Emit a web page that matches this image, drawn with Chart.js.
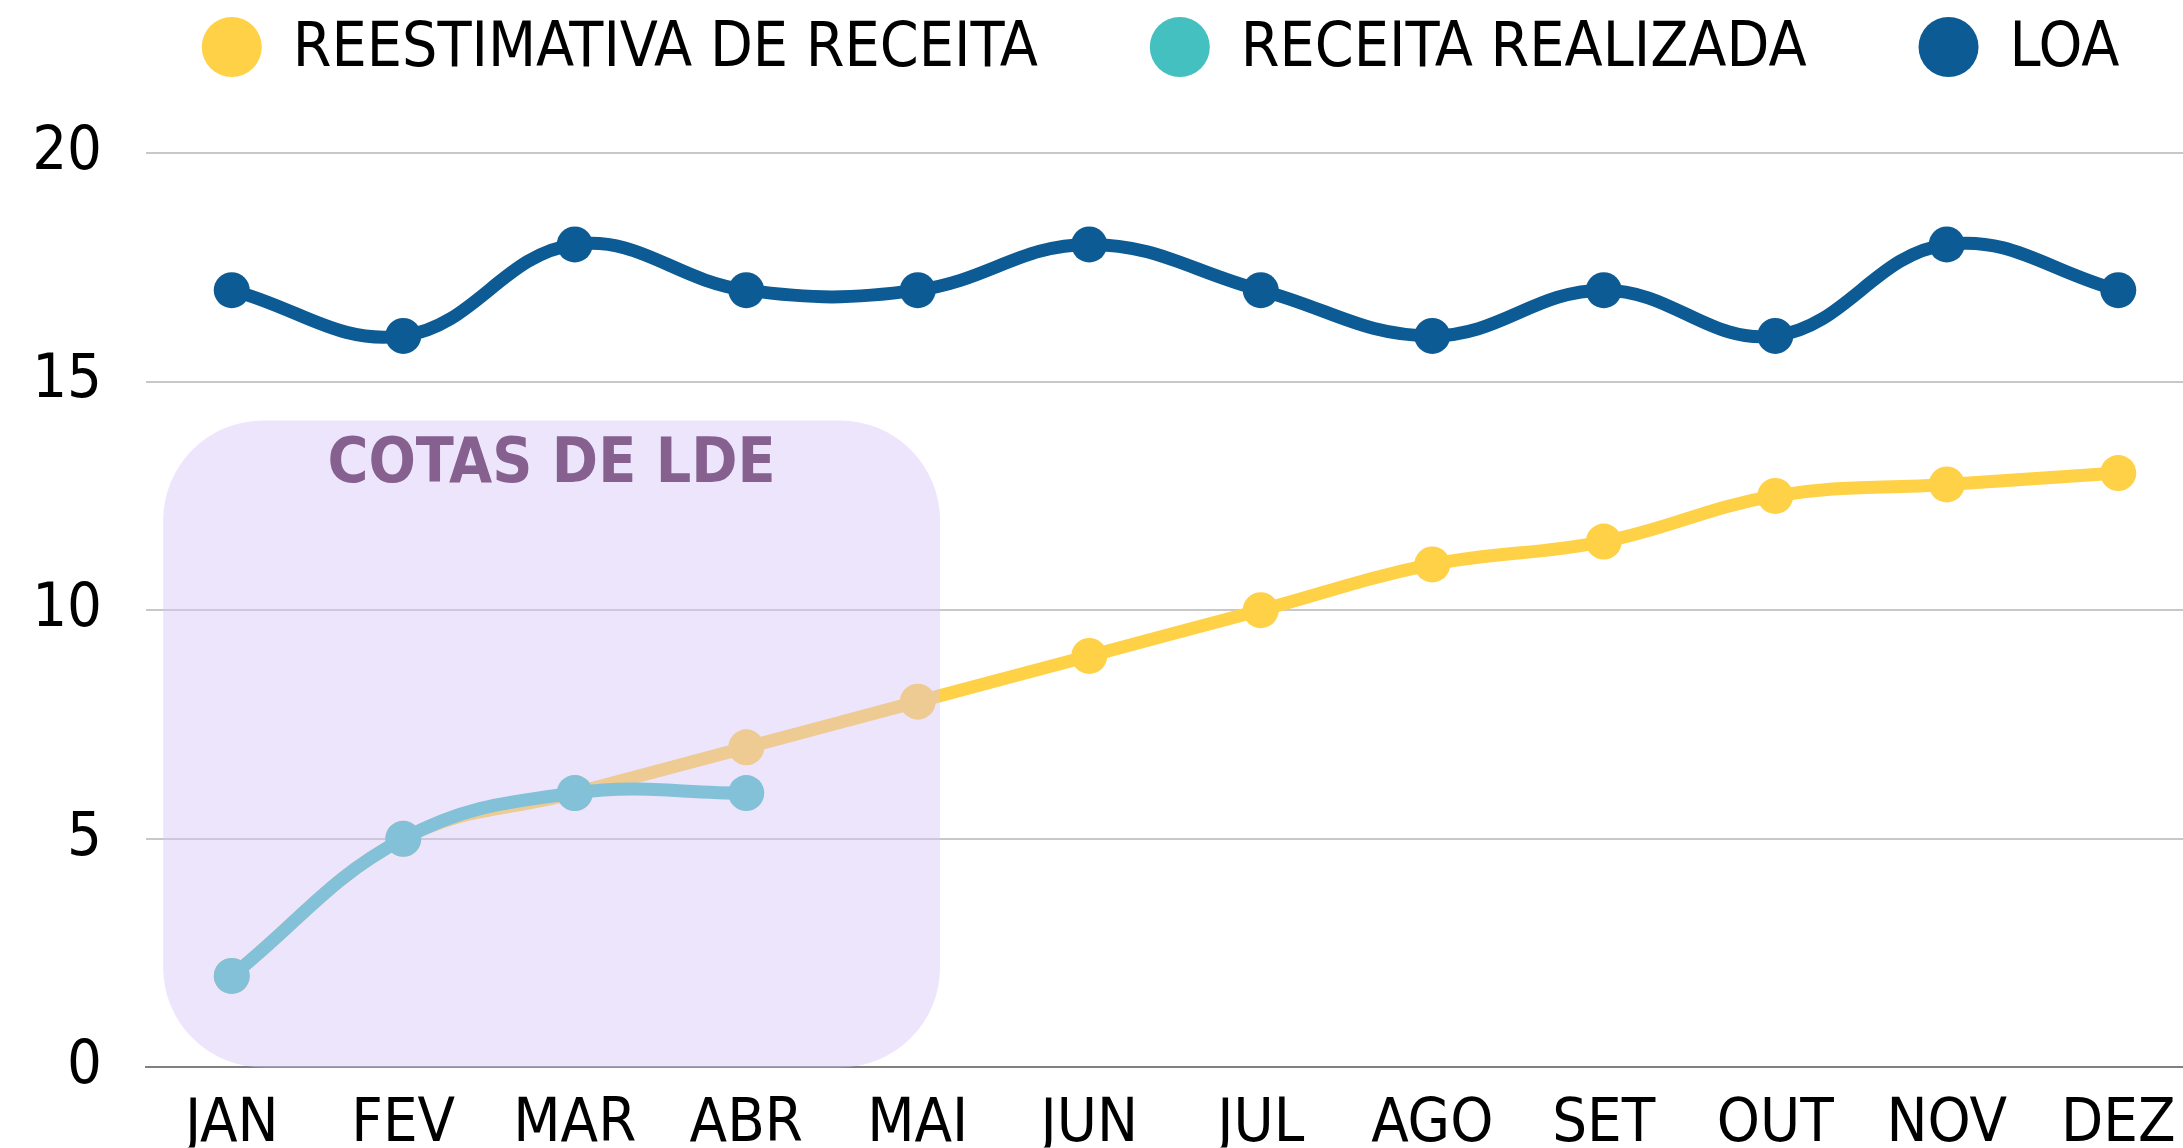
<!DOCTYPE html>
<html>
<head>
<meta charset="utf-8">
<script src="https://cdn.jsdelivr.net/npm/chart.js@4.4.1/dist/chart.umd.min.js"></script>
<style>
html, body { margin: 0; padding: 0; background: #fff; overflow: hidden; }
#wrap { width: 2204px; height: 1148px; }
</style>
</head>
<body>
<div id="wrap"><canvas id="receitaChart" width="2204" height="1148"></canvas></div>
<script>
// Dados do gráfico
var meses = ['JAN', 'FEV', 'MAR', 'ABR', 'MAI', 'JUN', 'JUL', 'AGO', 'SET', 'OUT', 'NOV', 'DEZ'];
var reestimativa = [2, 5, 6, 7, 8, 9, 10, 11, 11.5, 12.5, 12.75, 13];
var realizada = [2, 5, 6, 6];
var loa = [17, 16, 18, 17, 17, 18, 17, 16, 17, 16, 18, 17];
var yTicks = [0, 5, 10, 15, 20];

var legendNames = ['REESTIMATIVA DE RECEITA', 'RECEITA REALIZADA', 'LOA'];
var legendColors = ['#FFD147', '#43C0BF', '#0D5B94'];

// Faixa "COTAS DE LDE" (em índice de mês e valor)
var cotasTexto = 'COTAS DE LDE';
var cotasInicio = -0.4, cotasFim = 4.13, cotasTopo = 14.15;

var fonte = '"DejaVu Sans Condensed", "Liberation Sans Narrow", sans-serif';

// Caixa lilás desenhada por cima das linhas (semi-transparente)
var cotasPlugin = {
    id: 'cotas',
    afterDatasetsDraw: function (chart) {
        var ctx = chart.ctx;
        var xs = chart.scales.x, ys = chart.scales.y;
        var left = xs.getPixelForValue(cotasInicio);
        var right = xs.getPixelForValue(cotasFim);
        var top = ys.getPixelForValue(cotasTopo);
        var bottom = ys.getPixelForValue(0);
        ctx.save();
        ctx.fillStyle = 'rgba(214, 195, 248, 0.43)';
        ctx.beginPath();
        ctx.roundRect(left, top, right - left, bottom - top, 100);
        ctx.fill();
        ctx.fillStyle = '#86618F';
        ctx.font = 'bold 62px ' + fonte;
        ctx.textAlign = 'center';
        ctx.textBaseline = 'middle';
        ctx.fillText(cotasTexto, (left + right) / 2, top + 45);
        ctx.restore();
    }
};

// Legenda própria no topo
var legendaPlugin = {
    id: 'legenda',
    afterDraw: function (chart) {
        var ctx = chart.ctx;
        var r = 30, gap = 31, itemGap = 112, y = 47;
        var x = chart.scales.x.getPixelForValue(0) - r;
        ctx.save();
        ctx.font = '62px ' + fonte;
        ctx.textBaseline = 'middle';
        legendNames.forEach(function (name, i) {
            ctx.fillStyle = legendColors[i];
            ctx.beginPath();
            ctx.arc(x + r, y, r, 0, Math.PI * 2);
            ctx.fill();
            ctx.fillStyle = '#000';
            ctx.fillText(name, x + 2 * r + gap, y + 3);
            x += 2 * r + gap + ctx.measureText(name).width + itemGap;
        });
        ctx.restore();
    }
};

var ctx = document.getElementById('receitaChart').getContext('2d');
var receitaChart = new Chart(ctx, {
    type: 'line',
    data: {
        labels: meses,
        datasets: [{
            label: legendNames[0],
            data: reestimativa,
            borderColor: legendColors[0],
            backgroundColor: legendColors[0],
            order: 1
        }, {
            label: legendNames[1],
            data: realizada,
            borderColor: legendColors[1],
            backgroundColor: legendColors[1],
            order: 0
        }, {
            label: legendNames[2],
            data: loa,
            borderColor: legendColors[2],
            backgroundColor: legendColors[2],
            order: 2
        }]
    },
    options: {
        responsive: false,
        animation: false,
        layout: { autoPadding: false, padding: { top: 153, left: 0, right: 0, bottom: 0 } },
        elements: {
            line: { borderWidth: 13, tension: 0.4 },
            point: { radius: 18, borderWidth: 0, hoverRadius: 18 }
        },
        plugins: {
            legend: { display: false },
            tooltip: { enabled: false }
        },
        scales: {
            x: {
                offset: true,
                grid: { display: false, drawTicks: false },
                border: { display: true, color: '#808080', width: 2 },
                ticks: { color: '#000', padding: 21, font: { family: fonte, size: 61 } },
                afterFit: function (s) { s.height = 80; }
            },
            y: {
                min: 0,
                max: 20,
                grid: { color: '#c8c8c8', lineWidth: 2, drawTicks: false },
                border: { display: false },
                ticks: { color: '#000', padding: 44, font: { family: fonte, size: 61 } },
                afterBuildTicks: function (s) {
                    s.ticks = yTicks.map(function (v) { return { value: v }; });
                },
                afterFit: function (s) { s.width = 146; }
            }
        }
    },
    plugins: [cotasPlugin, legendaPlugin]
});
</script>
</body>
</html>
